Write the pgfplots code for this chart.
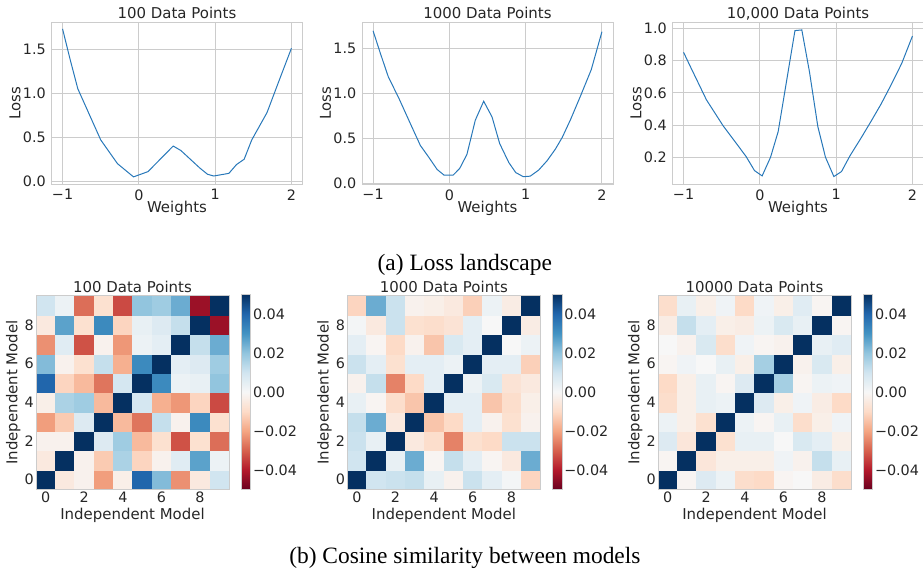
\documentclass[border=0pt]{standalone}
\usepackage{pgfplots}
\pgfplotsset{compat=1.18}
\usepackage{fontspec}
\setmainfont{DejaVu Sans}
\newfontfamily\capfont{Liberation Serif}
\definecolor{gridc}{HTML}{CCCCCC}
\definecolor{txt}{HTML}{262626}
\definecolor{lineblue}{RGB}{40,120,185}
\newcommand\tickf{\fontsize{14.4}{16}\selectfont}
\newcommand\labf{\fontsize{15}{17}\selectfont}
\pgfplotsset{colormap={RdBu}{rgb255=(103,0,31) rgb255=(178,24,43) rgb255=(214,96,77) rgb255=(244,165,130) rgb255=(253,219,199) rgb255=(247,247,247) rgb255=(209,229,240) rgb255=(146,197,222) rgb255=(67,147,195) rgb255=(33,102,172) rgb255=(5,48,97)}}
\pgfplotsset{
 lossax/.style={scale only axis, width=251bp, height=161.6bp, xmin=-1.145, xmax=2.145,
  axis line style={gridc, line width=1bp}, grid=major, grid style={gridc, line width=0.9bp},
  major tick length=0pt, tick style={draw=none},
  xtick={-1,0,1,2}, xticklabels={−1,0,1,2},
  tick label style={font=\tickf, text=txt},
  xticklabel style={anchor=north, inner sep=0pt, yshift=-5bp},
  yticklabel style={anchor=east, inner sep=0pt, xshift=-5.5bp},
  every axis title/.style={at={(axis description cs:0.5,1)}, anchor=base, yshift=3.7bp, inner sep=0pt, font=\labf, text=txt},
  every axis x label/.style={at={(axis description cs:0.5,0)}, anchor=base, yshift=-28.5bp, inner sep=0pt, font=\labf, text=txt},
  every axis y label/.style={at={(axis description cs:-0.1454,0.5)}, rotate=90, anchor=center, inner sep=0pt, font=\labf, text=txt},
  xlabel={Weights}, ylabel={Loss}},
 hmax/.style={scale only axis, width=193bp, height=193bp, xmin=-0.5, xmax=9.5, ymin=-0.5, ymax=9.5,
  axis line style={gridc, line width=1bp}, axis on top,
  major tick length=0pt, tick style={draw=none},
  xtick={0,2,4,6,8}, ytick={0,2,4,6,8}, xticklabels={0,2,4,6,8}, yticklabels={0,2,4,6,8},
  tick label style={font=\tickf, text=txt},
  xticklabel style={anchor=north, inner sep=0pt, yshift=-3bp},
  yticklabel style={anchor=east, inner sep=0pt, xshift=-2bp},
  every axis title/.style={at={(axis description cs:0.5,1)}, anchor=base, yshift=3.3bp, inner sep=0pt, font=\labf, text=txt},
  every axis x label/.style={at={(axis description cs:0.5,0)}, anchor=base, yshift=-30bp, inner sep=0pt, font=\labf, text=txt},
  every axis y label/.style={at={(axis description cs:-0.1176,0.5)}, rotate=90, anchor=center, inner sep=0pt, font=\labf, text=txt},
  xlabel={Independent Model}, ylabel={Independent Model},
  colormap name=RdBu, point meta min=-0.05, point meta max=0.05,
  colorbar,
  colorbar style={scale only axis, width=9.5bp, height=195.5bp, at={(parent axis.north east)}, anchor=north west, xshift=3.6bp, yshift=1.6bp,
   axis line style={gridc, line width=0.8bp}, major tick length=0pt, tick style={draw=none},
   scaled y ticks=false,
   ytick={-0.04,-0.02,0,0.02,0.04}, yticklabels={−0.04,−0.02,0.00,0.02,0.04},
   yticklabel style={anchor=west, inner sep=0pt, xshift=2.2bp, font=\tickf, text=txt}}},
}
\begin{document}
\begin{tikzpicture}
\useasboundingbox (0,0) rectangle (923bp,569bp);
% ---------- Loss landscapes ----------
\begin{axis}[lossax, at={(51.5bp,384.7bp)}, anchor=south west, ymin=-0.034, ymax=1.80,
  ytick={0,0.5,1,1.5}, yticklabels={0.0,0.5,1.0,1.5}, title={100 Data Points}]
\addplot[lineblue, line width=1bp] coordinates {(-1,1.73) (-0.9,1.38) (-0.8,1.05) (-0.65,0.76) (-0.5,0.47) (-0.28,0.20) (-0.07,0.05) (0.12,0.11) (0.45,0.40) (0.55,0.35) (0.8,0.15) (0.9,0.08) (0.98,0.06) (1.18,0.09) (1.28,0.19) (1.38,0.25) (1.48,0.47) (1.68,0.78) (1.85,1.17) (2.0,1.51)};
\node[anchor=base west, inner sep=0pt, font=\tickf, text=txt, yshift=2.7bp] at (rel axis cs:0,1) {1e10};
\end{axis}
\begin{axis}[lossax, at={(362bp,384.7bp)}, anchor=south west, ymin=-0.01, ymax=1.78,
  ytick={0,0.5,1,1.5}, yticklabels={0.0,0.5,1.0,1.5}, title={1000 Data Points}]
\addplot[lineblue, line width=1bp] coordinates {(-1,1.69) (-0.9,1.43) (-0.8,1.18) (-0.66,0.94) (-0.51,0.66) (-0.38,0.42) (-0.27,0.29) (-0.16,0.154) (-0.07,0.092) (0.05,0.092) (0.135,0.165) (0.23,0.32) (0.34,0.70) (0.45,0.91) (0.56,0.735) (0.66,0.44) (0.78,0.23) (0.87,0.12) (0.97,0.074) (1.06,0.08) (1.17,0.147) (1.28,0.25) (1.39,0.38) (1.48,0.51) (1.59,0.71) (1.72,0.97) (1.86,1.26) (2.0,1.68)};
\node[anchor=base west, inner sep=0pt, font=\tickf, text=txt, yshift=2.7bp] at (rel axis cs:0,1) {1e11};
\end{axis}
\begin{axis}[lossax, at={(672.5bp,384.7bp)}, anchor=south west, ymin=0.032, ymax=1.035,
  ytick={0.2,0.4,0.6,0.8,1.0}, yticklabels={0.2,0.4,0.6,0.8,1.0}, title={10,000 Data Points}]
\addplot[lineblue, line width=1bp] coordinates {(-1,0.851) (-0.89,0.742) (-0.70,0.556) (-0.48,0.394) (-0.31,0.287) (-0.18,0.204) (-0.07,0.117) (0.03,0.084) (0.14,0.20) (0.24,0.359) (0.46,0.986) (0.55,0.99) (0.65,0.731) (0.76,0.39) (0.86,0.20) (0.97,0.08) (1.07,0.111) (1.18,0.208) (1.33,0.322) (1.46,0.425) (1.59,0.531) (1.72,0.649) (1.86,0.783) (2.0,0.952)};
\node[anchor=base west, inner sep=0pt, font=\tickf, text=txt, yshift=2.7bp] at (rel axis cs:0,1) {1e12};
\end{axis}
\node[anchor=base, inner sep=0pt, font=\capfont\fontsize{23.5}{26}\selectfont] at (464.8bp,298.3bp) {(a) Loss landscape};
% ---------- Heatmaps ----------
\begin{axis}[hmax, at={(36bp,80bp)}, anchor=south west, title={100 Data Points}]
\addplot[matrix plot*, mesh/cols=10, point meta=explicit] coordinates {
(0,0) [1] (1,0) [-0.005] (2,0) [-0.002] (3,0) [-0.021] (4,0) [-0.003] (5,0) [0.040] (6,0) [0.022] (7,0) [-0.023] (8,0) [-0.005] (9,0) [0.010]
(0,1) [-0.005] (1,1) [1] (2,1) [-0.002] (3,1) [-0.013] (4,1) [0.016] (5,1) [-0.011] (6,1) [-0.002] (7,1) [0.006] (8,1) [0.027] (9,1) [0.003]
(0,2) [-0.002] (1,2) [-0.002] (2,2) [1] (3,2) [0.007] (4,2) [0.018] (5,2) [-0.016] (6,2) [-0.008] (7,2) [-0.032] (8,2) [-0.008] (9,2) [-0.028]
(0,3) [-0.021] (1,3) [-0.013] (2,3) [0.007] (3,3) [1] (4,3) [-0.016] (5,3) [-0.027] (6,3) [0.012] (7,3) [-0.002] (8,3) [0.032] (9,3) [-0.008]
(0,4) [-0.003] (1,4) [0.016] (2,4) [0.018] (3,4) [-0.016] (4,4) [1] (5,4) [0.009] (6,4) [-0.018] (7,4) [-0.022] (8,4) [-0.011] (9,4) [-0.033]
(0,5) [0.040] (1,5) [-0.011] (2,5) [-0.016] (3,5) [-0.027] (4,5) [0.009] (5,5) [1] (6,5) [0.032] (7,5) [0.003] (8,5) [0.004] (9,5) [0.020]
(0,6) [0.022] (1,6) [-0.002] (2,6) [-0.008] (3,6) [0.012] (4,6) [-0.018] (5,6) [0.032] (6,6) [1] (7,6) [0.005] (8,6) [0.007] (9,6) [0.018]
(0,7) [-0.023] (1,7) [0.006] (2,7) [-0.032] (3,7) [-0.002] (4,7) [-0.022] (5,7) [0.003] (6,7) [0.005] (7,7) [1] (8,7) [0.012] (9,7) [0.025]
(0,8) [-0.005] (1,8) [0.027] (2,8) [-0.008] (3,8) [0.032] (4,8) [-0.011] (5,8) [0.004] (6,8) [0.007] (7,8) [0.012] (8,8) [1] (9,8) [-0.043]
(0,9) [0.010] (1,9) [0.003] (2,9) [-0.028] (3,9) [-0.008] (4,9) [-0.033] (5,9) [0.020] (6,9) [0.018] (7,9) [0.025] (8,9) [-0.043] (9,9) [1]
};
\end{axis}
\begin{axis}[hmax, at={(347.3bp,80bp)}, anchor=south west, title={1000 Data Points}]
\addplot[matrix plot*, mesh/cols=10, point meta=explicit] coordinates {
(0,0) [1] (1,0) [0.010] (2,0) [0.011] (3,0) [0.012] (4,0) [0.004] (5,0) [-0.002] (6,0) [0.011] (7,0) [0.005] (8,0) [0.001] (9,0) [-0.011]
(0,1) [0.010] (1,1) [1] (2,1) [0.004] (3,1) [0.025] (4,1) [-0.001] (5,1) [0.012] (6,1) [0.005] (7,1) [-0.001] (8,1) [-0.005] (9,1) [0.025]
(0,2) [0.011] (1,2) [0.004] (2,2) [1] (3,2) [-0.005] (4,2) [-0.009] (5,2) [-0.025] (6,2) [-0.008] (7,2) [-0.010] (8,2) [0.011] (9,2) [0.011]
(0,3) [0.012] (1,3) [0.025] (2,3) [-0.005] (3,3) [1] (4,3) [-0.014] (5,3) [-0.010] (6,3) [0.005] (7,3) [-0.002] (8,3) [-0.008] (9,3) [-0.002]
(0,4) [0.004] (1,4) [-0.001] (2,4) [-0.009] (3,4) [-0.014] (4,4) [1] (5,4) [0.005] (6,4) [0.005] (7,4) [-0.014] (8,4) [-0.009] (9,4) [-0.003]
(0,5) [-0.002] (1,5) [0.012] (2,5) [-0.025] (3,5) [-0.010] (4,5) [0.005] (5,5) [1] (6,5) [0.003] (7,5) [0.008] (8,5) [-0.007] (9,5) [-0.005]
(0,6) [0.011] (1,6) [0.005] (2,6) [-0.008] (3,6) [0.005] (4,6) [0.005] (5,6) [0.003] (6,6) [1] (7,6) [0.005] (8,6) [0.005] (9,6) [-0.012]
(0,7) [0.005] (1,7) [-0.001] (2,7) [-0.010] (3,7) [-0.002] (4,7) [-0.014] (5,7) [0.008] (6,7) [0.005] (7,7) [1] (8,7) [0.000] (9,7) [0.003]
(0,8) [0.001] (1,8) [-0.005] (2,8) [0.011] (3,8) [-0.008] (4,8) [-0.009] (5,8) [-0.007] (6,8) [0.005] (7,8) [0.000] (8,8) [1] (9,8) [-0.004]
(0,9) [-0.011] (1,9) [0.025] (2,9) [0.011] (3,9) [-0.002] (4,9) [-0.003] (5,9) [-0.005] (6,9) [-0.012] (7,9) [0.003] (8,9) [-0.004] (9,9) [1]
};
\end{axis}
\begin{axis}[hmax, at={(658bp,80bp)}, anchor=south west, title={10000 Data Points}]
\addplot[matrix plot*, mesh/cols=10, point meta=explicit] coordinates {
(0,0) [1] (1,0) [-0.001] (2,0) [0.007] (3,0) [0.003] (4,0) [-0.009] (5,0) [-0.010] (6,0) [-0.001] (7,0) [0.000] (8,0) [-0.004] (9,0) [-0.009]
(0,1) [-0.001] (1,1) [1] (2,1) [-0.006] (3,1) [-0.003] (4,1) [-0.003] (5,1) [-0.003] (6,1) [0.002] (7,1) [-0.002] (8,1) [0.012] (9,1) [0.004]
(0,2) [0.007] (1,2) [-0.006] (2,2) [1] (3,2) [-0.008] (4,2) [0.004] (5,2) [0.004] (6,2) [0.000] (7,2) [0.008] (8,2) [0.005] (9,2) [-0.003]
(0,3) [0.003] (1,3) [-0.003] (2,3) [-0.008] (3,3) [1] (4,3) [0.003] (5,3) [-0.001] (6,3) [0.004] (7,3) [-0.009] (8,3) [-0.003] (9,3) [0.002]
(0,4) [-0.009] (1,4) [-0.003] (2,4) [0.004] (3,4) [0.003] (4,4) [1] (5,4) [0.007] (6,4) [-0.003] (7,4) [0.002] (8,4) [-0.004] (9,4) [-0.010]
(0,5) [-0.010] (1,5) [-0.003] (2,5) [0.004] (3,5) [-0.001] (4,5) [0.007] (5,5) [1] (6,5) [0.017] (7,5) [-0.001] (8,5) [0.003] (9,5) [0.002]
(0,6) [-0.001] (1,6) [0.002] (2,6) [0.000] (3,6) [0.004] (4,6) [-0.003] (5,6) [0.017] (6,6) [1] (7,6) [-0.002] (8,6) [0.008] (9,6) [-0.003]
(0,7) [0.000] (1,7) [-0.002] (2,7) [0.008] (3,7) [-0.009] (4,7) [0.002] (5,7) [-0.001] (6,7) [-0.002] (7,7) [1] (8,7) [0.004] (9,7) [0.006]
(0,8) [-0.004] (1,8) [0.012] (2,8) [0.005] (3,8) [-0.003] (4,8) [-0.004] (5,8) [0.003] (6,8) [0.008] (7,8) [0.004] (8,8) [1] (9,8) [-0.001]
(0,9) [-0.009] (1,9) [0.004] (2,9) [-0.003] (3,9) [0.002] (4,9) [-0.010] (5,9) [0.002] (6,9) [-0.003] (7,9) [0.006] (8,9) [-0.001] (9,9) [1]
};
\end{axis}
\node[anchor=base, inner sep=0pt, font=\capfont\fontsize{23.5}{26}\selectfont] at (464.9bp,6bp) {(b) Cosine similarity between models};
\end{tikzpicture}
\end{document}
